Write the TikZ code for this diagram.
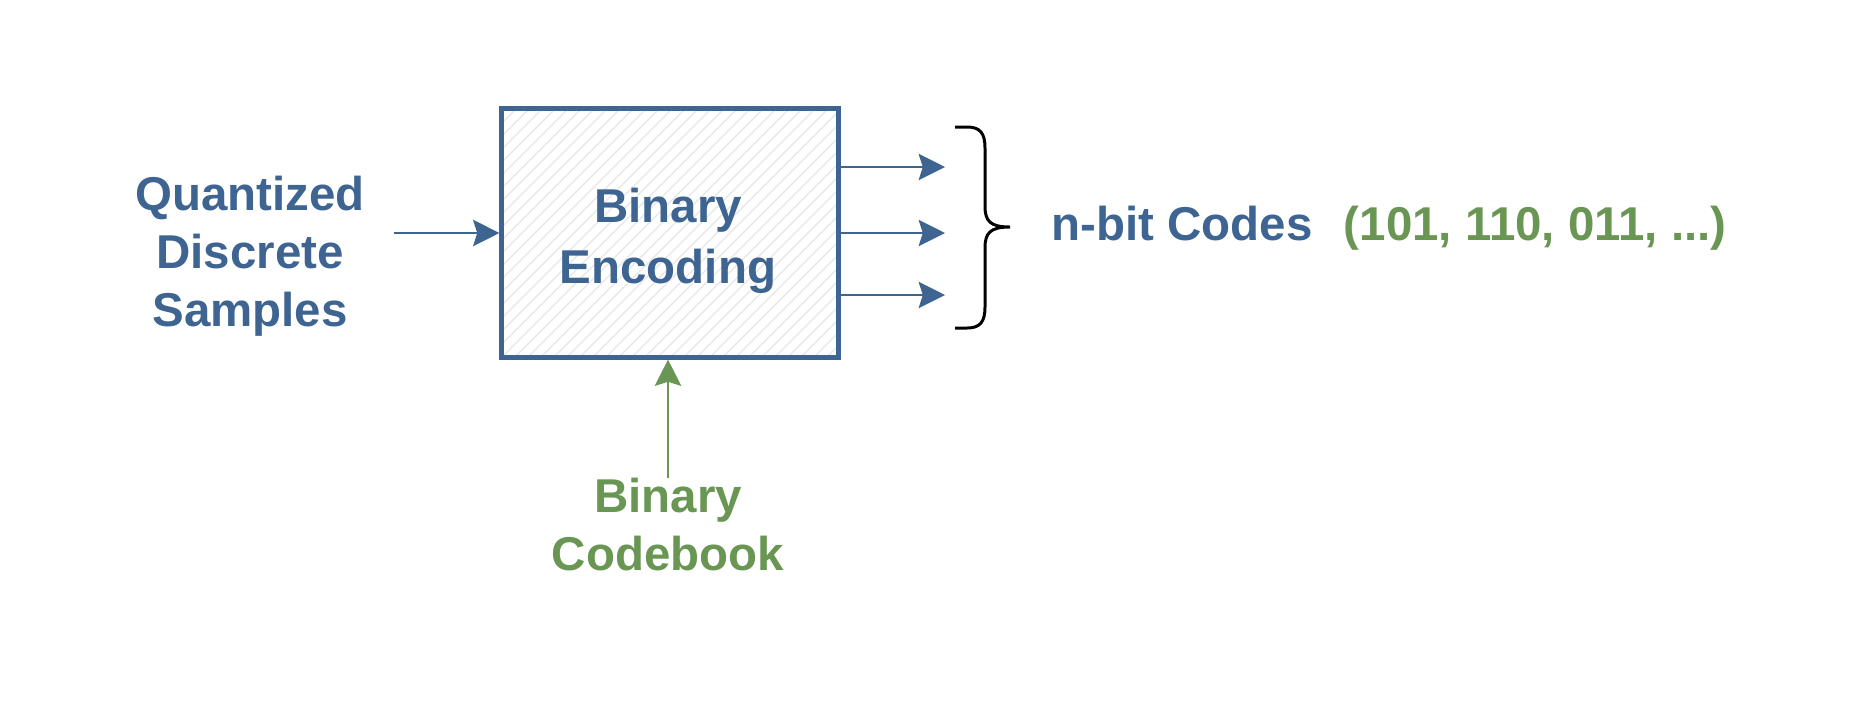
\documentclass[tikz,border=0pt]{standalone}
\usepackage{fontspec}
\setmainfont{Liberation Sans}
\usetikzlibrary{arrows.meta,positioning}
\definecolor{encblue}{RGB}{62,100,146}
\definecolor{bookgreen}{RGB}{106,150,84}
\definecolor{hatchgray}{RGB}{230,230,230}

\begin{document}
\begin{tikzpicture}[x=0.01cm, y=-0.01cm, >={Stealth[length=7.5pt, width=7.5pt, inset=1.2pt]},
  lbl/.style={font=\bfseries\fontsize{13.5}{16.5}\selectfont, align=center, inner sep=0pt},
  encbox/.style={draw=encblue, line width=1.4pt, fill=white, minimum width=3.36cm, minimum height=2.48cm,
    path picture={\foreach \i in {-260,-247,...,340}
      \draw[hatchgray, line width=0.35pt] (path picture bounding box.south west) ++(\i,0) -- ++(300,-300);}},
  enclbl/.style={lbl, text=encblue, font=\bfseries\fontsize{13.5}{17.5}\selectfont},
  arr/.style={->, draw=encblue, line width=0.6pt},
  garr/.style={->, draw=bookgreen, line width=0.6pt},
  bracket/.style={draw=black, line width=0.85pt}]
  \useasboundingbox (0,0) rectangle (1863,705);

  \node[encbox] (enc) at (670,233) {};
  \node[enclbl] (enctxt) at (668,241) {Binary\\Encoding};
  \node[lbl, text=encblue] (quant) at (250,256) {Quantized\\Discrete\\Samples};
  \node[lbl, text=bookgreen] (book) at (668,525) {Binary\\Codebook};
  \node[lbl, text=encblue, anchor=base] (codes) at (1182,240) {n-bit Codes};
  \node[lbl, text=bookgreen, base right=0.3cm of codes] (vals) {(101, 110, 011, ...)};

  % input and codebook
  \coordinate (in) at (394,233);
  \draw[arr] (in) -- (enc.west);
  \draw[garr] (book.north) -- (book.north |- enc.south);

  % output bits
  \foreach \y [count=\k] in {167,233,295}{
    \coordinate (o\k) at (945,\y);
    \draw[arr] (enc.east |- o\k) -- (o\k);
  }

  % brace round the bits
  \coordinate (btop) at (955,127);
  \coordinate (bbot) at (955,328);
  \coordinate (btip) at (1010,227);
  \draw[bracket] (btop) -- (967,127) .. controls (980,127) and (985,133) .. (985,148)
    -- (985,206) .. controls (985,221) and (990,227) .. (btip)
    .. controls (990,227) and (985,233) .. (985,248)
    -- (985,307) .. controls (985,322) and (980,328) .. (967,328) -- (bbot);
\end{tikzpicture}
\end{document}
